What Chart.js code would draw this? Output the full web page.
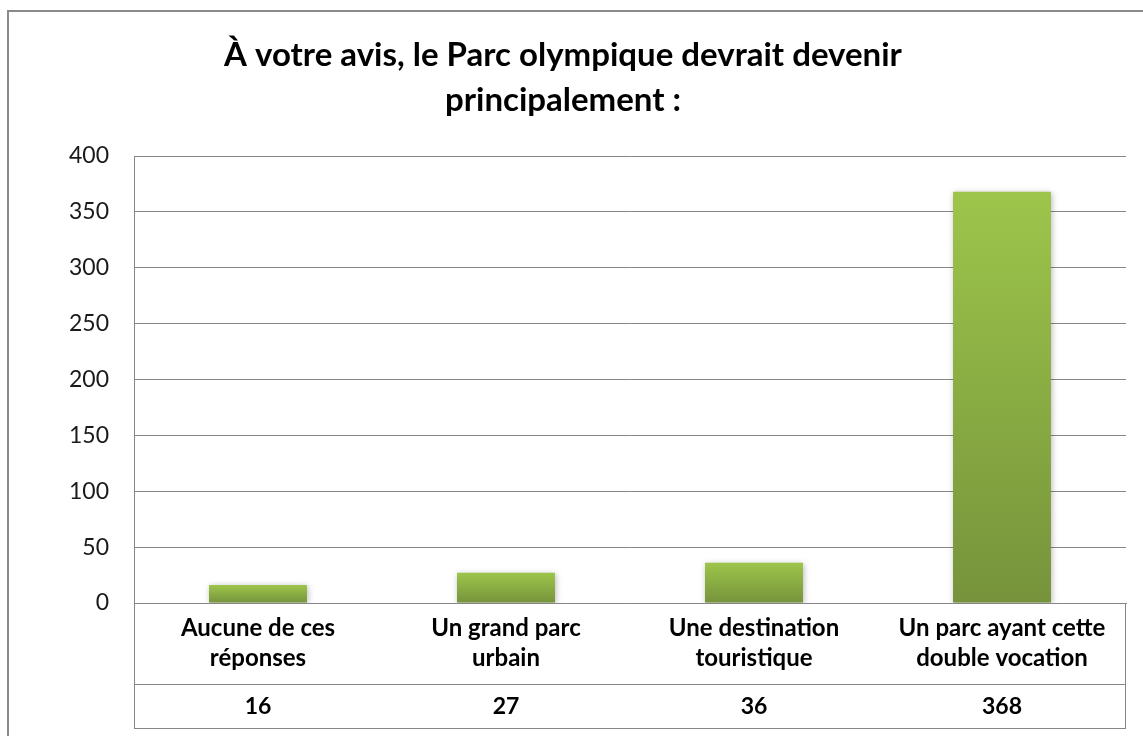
<!DOCTYPE html>
<html>
<head>
<meta charset="utf-8">
<script src="https://cdn.jsdelivr.net/npm/chart.js@4/dist/chart.umd.min.js"></script>
<style>
  html, body { margin: 0; padding: 0; background: #ffffff; }
  canvas { display: block; }
</style>
</head>
<body>
<canvas id="myChart" width="1143" height="736"></canvas>
<script>
const titleLines = ['À votre avis, le Parc olympique devrait devenir', 'principalement :'];
const categories = [
  ['Aucune de ces', 'réponses'],
  ['Un grand parc', 'urbain'],
  ['Une destination', 'touristique'],
  ['Un parc ayant cette', 'double vocation']
];
const votes = [16, 27, 36, 368];

const gridColor = '#868686';
const fontFamily = 'Lato, "Open Sans", sans-serif';

// bars get a soft drop shadow like the excel original
const barShadow = {
  id: 'barShadow',
  beforeDatasetsDraw(chart) {
    const ctx = chart.ctx;
    ctx.save();
    ctx.shadowColor = 'rgba(0,0,0,0.28)';
    ctx.shadowBlur = 6;
    ctx.shadowOffsetX = 1;
    ctx.shadowOffsetY = 1;
  },
  afterDatasetsDraw(chart) {
    chart.ctx.restore();
  }
};

// data table under the axis + the outer frame
const dataTable = {
  id: 'dataTable',
  afterDraw(chart) {
    const { ctx, chartArea, scales } = chart;
    const left = chartArea.left, right = chartArea.right;
    const axisY = chartArea.bottom;
    const midY = 684, bottomY = 728;

    ctx.save();
    ctx.strokeStyle = gridColor;
    ctx.lineWidth = 1;
    ctx.beginPath();
    ctx.moveTo(left, midY + 0.5); ctx.lineTo(right, midY + 0.5);
    ctx.moveTo(left, bottomY + 0.5); ctx.lineTo(right, bottomY + 0.5);
    ctx.moveTo(left + 0.5, axisY); ctx.lineTo(left + 0.5, bottomY + 1);
    ctx.moveTo(right - 0.5, axisY); ctx.lineTo(right - 0.5, bottomY + 1);
    ctx.stroke();

    ctx.fillStyle = '#000000';
    ctx.font = 'bold 23px ' + fontFamily;
    ctx.textAlign = 'center';
    ctx.textBaseline = 'middle';
    votes.forEach((v, i) => {
      ctx.fillText(String(v), scales.x.getPixelForValue(i), 707);
    });

    ctx.strokeStyle = '#8a8a8a';
    ctx.lineWidth = 2;
    ctx.beginPath();
    ctx.moveTo(8, chart.height);
    ctx.lineTo(8, 11);
    ctx.lineTo(chart.width, 11);
    ctx.stroke();
    ctx.restore();
  }
};

const ctx = document.getElementById('myChart');
const myChart = new Chart(ctx, {
  type: 'bar',
  data: {
    labels: categories,
    datasets: [{
      data: votes,
      label: 'Réponses',
      backgroundColor: (c) => {
        const chart = c.chart;
        if (!chart.chartArea || c.type !== 'data') return '#8cb043';
        const y = chart.scales.y;
        const top = y.getPixelForValue(c.raw);
        const bottom = y.getPixelForValue(0);
        const g = chart.ctx.createLinearGradient(0, top, 0, bottom);
        g.addColorStop(0, '#9dc54b');
        g.addColorStop(1, '#76933b');
        return g;
      },
      borderWidth: 0,
      barPercentage: 0.395,
      categoryPercentage: 1
    }]
  },
  options: {
    responsive: false,
    animation: false,
    layout: {
      padding: { left: 0, right: 17, top: 0, bottom: 8 }
    },
    plugins: {
      legend: { display: false },
      tooltip: { enabled: false },
      title: {
        display: true,
        text: titleLines,
        color: '#000000',
        font: { family: fontFamily, size: 33, weight: 'bold', lineHeight: 1.364 },
        padding: { top: 33, bottom: 33 }
      }
    },
    scales: {
      x: {
        grid: { display: false, drawTicks: false },
        border: { display: true, color: gridColor },
        ticks: {
          color: '#000000',
          padding: 10,
          font: { family: fontFamily, size: 24, weight: 'bold', lineHeight: 1.25 }
        },
        afterFit: (scale) => { scale.height = 125; }
      },
      y: {
        min: 0,
        max: 400,
        grid: { color: gridColor, drawTicks: false },
        border: { display: true, color: gridColor },
        ticks: {
          stepSize: 50,
          color: '#1a1a1a',
          padding: 25,
          font: { family: fontFamily, size: 23 }
        },
        afterFit: (scale) => { scale.width = 134; }
      }
    }
  },
  plugins: [barShadow, dataTable]
});
</script>
</body>
</html>
